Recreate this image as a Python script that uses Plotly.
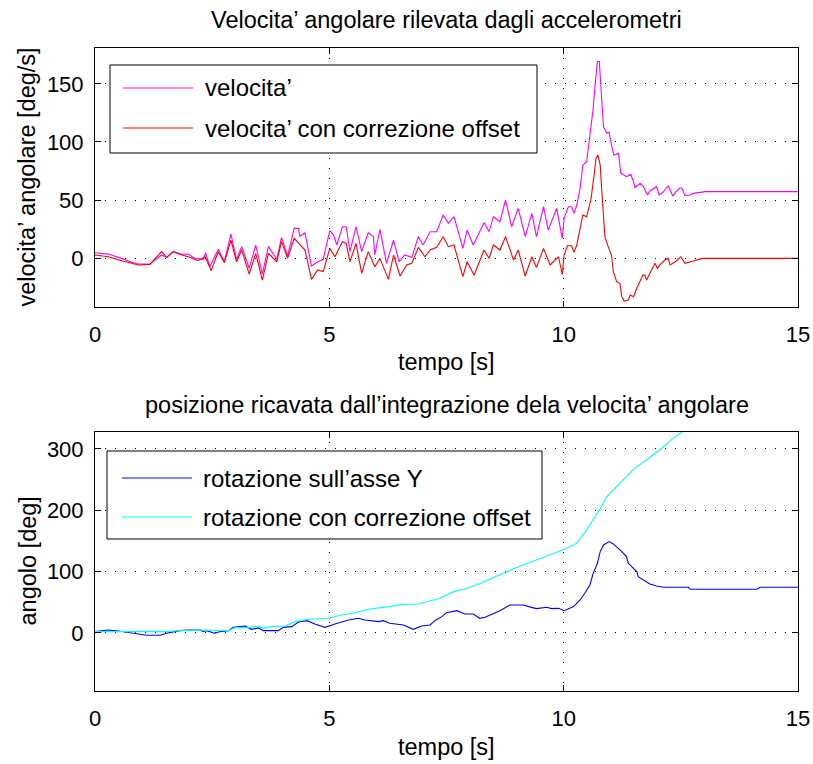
import plotly.graph_objects as go

# ---- angular velocity (deg/s) ----
t_vel = [0.00, 0.28, 0.57, 0.78, 0.92, 1.17, 1.42, 1.53, 1.67, 1.85, 1.99, 2.13, 2.31, 2.36, 2.45,
         2.63, 2.76, 2.90, 3.02, 3.13, 3.29, 3.43, 3.57, 3.70, 3.88, 3.98, 4.11, 4.25, 4.34, 4.37,
         4.48, 4.62, 4.75, 4.87, 5.01, 5.09, 5.16, 5.28, 5.36, 5.44, 5.57, 5.69, 5.83, 5.94, 5.97,
         6.08, 6.22, 6.37, 6.49, 6.61, 6.76, 6.90, 7.00, 7.15, 7.29, 7.43, 7.54, 7.66, 7.85, 7.94,
         8.07, 8.30, 8.41, 8.50, 8.64, 8.76, 8.89, 9.03, 9.18, 9.32, 9.42, 9.57, 9.67, 9.85, 9.97,
         10.01, 10.10, 10.17, 10.22, 10.28, 10.35, 10.41, 10.49, 10.56, 10.63, 10.67, 10.72, 10.76,
         10.80, 10.85, 10.92, 10.97, 11.02, 11.07, 11.17, 11.22, 11.34, 11.43, 11.49, 11.52, 11.63,
         11.70, 11.79, 11.84, 11.98, 12.04, 12.13, 12.23, 12.33, 12.38, 12.47, 12.52, 12.59, 12.70,
         12.77, 13.02, 15.00]
vel = [4.6, 3.4, -0.3, -3.7, -5.2, -5.2, 2.6, 0.6, 5.5, 3.2, 3.4, -0.3, -1.1, 4.6, -7.5,
       7.5, -3.2, 20.7, -1.1, 9.8, -8.9, 11.2, -13.8, 9.8, -1.1, 17.8, 1.7, 25.6, 25.6, 18.7,
       21.6, -6.9, -3.2, -1.1, 23.6, 19.8, 11.2, 27.0, 27.0, 5.5, 27.0, 5.5, 21.8, 18.4, 2.6,
       24.7, -4.6, 15.5, -3.2, 2.6, 0.6, 18.4, 11.2, 22.7, 22.7, 37.1, 29.9, 35.6, 8.3, 24.1,
       11.2, 30.5, 22.7, 35.6, 31.3, 50.0, 27.0, 42.8, 18.4, 38.5, 18.4, 44.3, 24.1, 42.8, 17.0,
       34.5, 44.2, 44.2, 38.5, 45.7, 60.1, 80.2, 83.0, 106.0, 129.0, 149.0, 169.3, 169.3,
       146.3, 113.2, 107.5, 108.3, 97.4, 88.8, 90.2, 73.0, 70.1, 72.1, 65.8, 60.6, 64.4,
       61.5, 54.3, 57.8, 61.5, 54.3, 57.2, 62.1, 53.4, 56.3, 60.3, 60.3, 53.7, 54.3,
       55.7, 57.2, 57.2]

t_vel_corr = [0.00, 0.28, 0.57, 0.92, 1.17, 1.42, 1.53, 1.67, 1.85, 1.99, 2.20, 2.35, 2.48, 2.63,
              2.76, 2.90, 3.02, 3.13, 3.29, 3.43, 3.57, 3.70, 3.88, 3.98, 4.11, 4.25, 4.48, 4.62,
              4.75, 4.87, 5.01, 5.12, 5.28, 5.36, 5.44, 5.57, 5.69, 5.83, 5.97, 6.08, 6.26, 6.37,
              6.51, 6.65, 6.76, 6.90, 7.04, 7.15, 7.29, 7.43, 7.54, 7.66, 7.85, 7.94, 8.09, 8.30,
              8.41, 8.50, 8.64, 8.76, 8.93, 9.03, 9.18, 9.32, 9.42, 9.57, 9.71, 9.89, 9.97, 10.01,
              10.08, 10.17, 10.22, 10.28, 10.35, 10.41, 10.49, 10.58, 10.65, 10.69, 10.73, 10.78,
              10.81, 10.85, 10.88, 10.95, 11.02, 11.06, 11.13, 11.20, 11.24, 11.29, 11.38, 11.42,
              11.49, 11.56, 11.63, 11.69, 11.73, 11.77, 11.84, 11.95, 12.00, 12.06, 12.16, 12.23,
              12.27, 12.38, 12.50, 12.59, 12.77, 12.95, 15.00]
vel_corr = [2.6, 1.1, -2.3, -6.0, -5.5, 5.5, 0.6, 5.5, 2.6, 1.1, -2.3, 1.1, -10.9, 5.5,
            -4.0, 15.5, -3.2, 6.9, -13.8, 4.0, -19.0, 4.0, -3.2, 14.1, -0.3, 17.0, 6.9, -18.4,
            -10.3, -11.7, 8.3, 1.1, 14.1, 12.6, -3.2, 12.6, -13.2, 5.5, -7.5, -0.3, -18.4, 2.6,
            -15.5, -6.0, -4.6, 9.2, 1.1, 6.9, 9.2, 18.4, 9.8, 11.2, -16.1, -3.2, -14.9, 6.9,
            -0.3, 11.2, 6.9, 18.4, -1.7, 6.9, -15.5, 1.1, -8.1, 8.3, -6.0, 1.1, -14.1, 2.6,
            10.6, 10.6, 4.9, 11.2, 25.6, 37.1, 35.6, 50.0, 71.6, 85.9, 88.8, 80.2,
            60.1, 37.1, 18.4, 9.8, 2.6, -11.8, -20.4, -21.8, -33.3, -37.1, -36.2, -31.9,
            -33.3, -26.1, -20.4, -14.7, -14.7, -19.0, -13.2, -4.6, -8.9, -5.5, -1.7, -0.3,
            -6.0, -3.2, 1.1, -4.6, -2.6, -0.3, -0.3]

# ---- integrated angle (deg) ----
t_rot = [0.00, 0.28, 0.50, 0.82, 1.10, 1.39, 1.53, 1.81, 1.96, 2.24, 2.31, 2.38, 2.55, 2.70, 2.85,
         2.95, 3.20, 3.34, 3.49, 3.59, 3.91, 4.02, 4.20, 4.34, 4.52, 4.69, 4.91, 5.12, 5.41, 5.62,
         5.76, 6.05, 6.15, 6.29, 6.58, 6.79, 6.97, 7.15, 7.25, 7.40, 7.50, 7.72, 7.89, 8.07, 8.21,
         8.32, 8.50, 8.64, 8.85, 9.14, 9.25, 9.42, 9.64, 9.74, 9.89, 10.01, 10.21, 10.35, 10.45,
         10.56, 10.63, 10.72, 10.78, 10.85, 10.97, 11.06, 11.24, 11.34, 11.38, 11.56, 11.59, 11.70,
         11.84, 11.98, 12.13, 12.66, 12.70, 14.12, 14.19, 15.00]
rot = [2.2, 4.9, 3.3, -0.5, -3.8, -3.8, -0.5, 3.8, 4.9, 4.9, 2.7, 3.8, -0.5, 2.7, 3.8,
       9.2, 11.4, 6.0, 8.2, 3.8, 3.8, 9.2, 10.3, 17.9, 20.1, 14.7, 9.2, 14.7, 21.2, 23.9,
       21.2, 18.5, 20.1, 15.8, 13.1, 6.0, 11.4, 13.1, 20.1, 26.6, 33.1, 36.4, 31.0, 31.0, 23.9,
       25.6, 31.0, 36.4, 45.7, 45.7, 43.0, 39.7, 41.9, 39.7, 40.2, 36.4, 43.0, 53.8, 64.7,
       78.3, 97.3, 113.6, 132.7, 143.5, 149.0, 145.2, 132.7, 124.5, 113.6, 100.0, 91.9, 86.5,
       79.9, 76.7, 74.5, 74.5, 71.2, 71.2, 74.5, 74.5]

t_rot_corr = [0.00, 0.71, 1.42, 2.13, 2.85, 2.99, 3.27, 3.49, 3.56, 3.77, 4.05, 4.27, 4.55, 4.98,
              5.26, 5.55, 5.83, 6.26, 6.54, 6.90, 7.11, 7.36, 7.65, 7.86, 8.14, 8.43, 8.78, 9.07,
              9.42, 9.78, 9.99, 10.28, 10.49, 10.67, 10.81, 10.92, 11.06, 11.27, 11.49, 11.77,
              12.05, 12.34, 12.55, 12.62]
rot_corr = [2.2, 2.2, 2.2, 4.9, 3.8, 8.7, 8.7, 11.4, 7.6, 10.3, 11.4, 18.5, 22.3, 23.9,
            29.4, 33.1, 38.6, 42.9, 46.7, 47.3, 51.1, 56.6, 67.4, 71.2, 78.3, 87.6, 100.0, 109.3,
            119.1, 130.0, 135.7, 146.5, 168.0, 189.8, 206.1, 222.5, 233.4, 249.7, 267.2, 282.4,
            298.7, 317.8, 328.7, 333.0]

x_ticks = [0, 5, 10, 15]
vel_ticks = [0, 50, 100, 150]
rot_ticks = [0, 100, 200, 300]

FONT = "Liberation Sans, Arial, Helvetica, sans-serif"
W, H = 813, 764
ML, MR, MT, MB = 95, 15, 48, 73
PW, PH = W - ML - MR, H - MT - MB


def px(x):
    return (x - ML) / PW


def py(y):
    return (H - MB - y) / PH


fig = go.Figure()
fig.add_trace(go.Scatter(x=t_vel, y=vel, mode="lines", line=dict(color="#ff00ff", width=1.1),
                         xaxis="x", yaxis="y", name="velocita’"))
fig.add_trace(go.Scatter(x=t_vel_corr, y=vel_corr, mode="lines", line=dict(color="#ff0000", width=1.1),
                         xaxis="x", yaxis="y", name="velocita’ con correzione offset"))
fig.add_trace(go.Scatter(x=t_rot, y=rot, mode="lines", line=dict(color="#0000ff", width=1.1),
                         xaxis="x2", yaxis="y2", name="rotazione sull’asse Y"))
fig.add_trace(go.Scatter(x=t_rot_corr, y=rot_corr, mode="lines", line=dict(color="#00ffff", width=1.1),
                         xaxis="x2", yaxis="y2", name="rotazione con correzione offset"))

axis_common = dict(
    showline=True, linecolor="black", linewidth=1, mirror="allticks",
    ticks="inside", ticklen=6, tickcolor="black", tickwidth=1,
    showgrid=True, gridcolor="black", gridwidth=1, griddash="1px,9px",
    zeroline=False, automargin=False, ticklabeloverflow="allow",
    tickfont=dict(family=FONT, size=22, color="black"),
)

top_dom = [py(307), py(48)]
bot_dom = [py(691), py(432)]

fig.update_layout(
    template="none",
    width=W, height=H,
    margin=dict(l=ML, r=MR, t=MT, b=MB, pad=0, autoexpand=False),
    paper_bgcolor="white", plot_bgcolor="white",
    showlegend=False,
    xaxis=dict(range=[0, 15], tickvals=x_ticks, domain=[0, 1], anchor="y",
               ticklabelstandoff=8, **axis_common),
    yaxis=dict(range=[-42.2, 181], tickvals=vel_ticks, domain=top_dom, anchor="x",
               ticklabelstandoff=6, **axis_common),
    xaxis2=dict(range=[0, 15], tickvals=x_ticks, domain=[0, 1], anchor="y2",
                ticklabelstandoff=8, **axis_common),
    yaxis2=dict(range=[-94.6, 327.7], tickvals=rot_ticks, domain=bot_dom, anchor="x2",
                ticklabelstandoff=6, **axis_common),
)

# axis titles and subplot titles
def label(text, x, y, angle=0, size=23.5):
    fig.add_annotation(text=text, x=px(x), y=py(y), xref="paper", yref="paper",
                       showarrow=False, textangle=angle, xanchor="center", yanchor="middle",
                       font=dict(family=FONT, size=size, color="black"))


label("Velocita’ angolare rilevata dagli accelerometri", 446.5, 20)
label("tempo [s]", 446.5, 362)
label("velocita’ angolare [deg/s]", 27, 177.5, angle=-90)
label("posizione ricavata dall’integrazione dela velocita’ angolare", 446.5, 405)
label("tempo [s]", 446.5, 747)
label("angolo [deg]", 27, 561.5, angle=-90)

# legends drawn as boxed keys inside each axes
def legend_box(x0, y0, x1, y1, entries, line_x0, line_x1, text_x):
    fig.add_shape(type="rect", xref="paper", yref="paper",
                  x0=px(x0), x1=px(x1), y0=py(y1), y1=py(y0),
                  line=dict(color="black", width=1), fillcolor="white", layer="above")
    for yy, color, text in entries:
        fig.add_shape(type="line", xref="paper", yref="paper",
                      x0=px(line_x0), x1=px(line_x1), y0=py(yy), y1=py(yy),
                      line=dict(color=color, width=1.1), layer="above")
        fig.add_annotation(text=text, x=px(text_x), y=py(yy), xref="paper", yref="paper",
                           showarrow=False, xanchor="left", yanchor="middle",
                           font=dict(family=FONT, size=24, color="black"))


legend_box(110, 65, 537, 153,
           [(88, "#ff00ff", "velocita’"), (128, "#ff0000", "velocita’ con correzione offset")],
           123, 193, 203)
legend_box(107, 451, 542, 539,
           [(478, "#0000ff", "rotazione sull’asse Y"), (517, "#00ffff", "rotazione con correzione offset")],
           122, 192, 201)

fig.write_html("out.html")
